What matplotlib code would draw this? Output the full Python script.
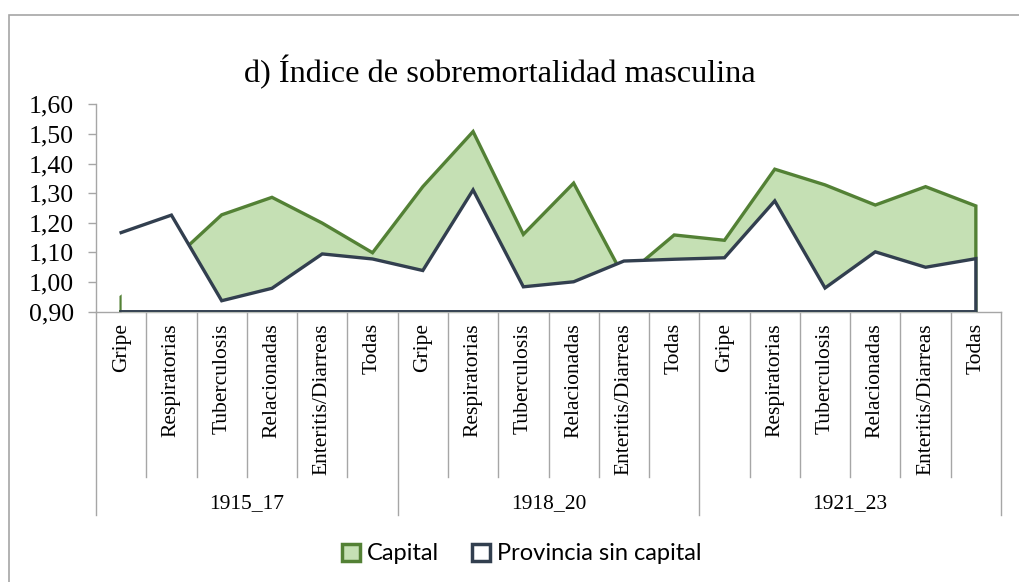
import numpy as np
import matplotlib.pyplot as plt
from matplotlib.patches import Rectangle, Patch
from matplotlib.lines import Line2D
import matplotlib.transforms as mtransforms

# ── DATA ─────────────────────────────────────────────────────
periodos = ['1915_17', '1918_20', '1921_23']
causas = ['Gripe', 'Respiratorias', 'Tuberculosis', 'Relacionadas',
          'Enteritis/Diarreas', 'Todas']
capital = [0.95, 1.07, 1.227, 1.286, 1.199, 1.099,
           1.322, 1.508, 1.161, 1.334, 1.016, 1.159,
           1.141, 1.381, 1.328, 1.260, 1.322, 1.257]
provincia = [1.167, 1.226, 0.937, 0.979, 1.095, 1.078,
             1.039, 1.311, 0.984, 1.001, 1.071, 1.077,
             1.082, 1.274, 0.980, 1.102, 1.050, 1.079]
yticks = [0.90, 1.00, 1.10, 1.20, 1.30, 1.40, 1.50, 1.60]

c_line = '#538135'
c_fill = '#c5e0b4'
p_line = '#323f4f'
grey = '#a6a6a6'
serif = 'Liberation Serif'

W, H = 1019, 582
fig = plt.figure(figsize=(W / 100, H / 100), dpi=100)
ax = fig.add_axes([96 / W, 1 - 311.7 / H, (1001 - 96) / W, (311.7 - 104.3) / H])

n = len(capital)
x = np.arange(n) + 0.5
base = yticks[0]

# capital area (green) then provincia area (white) on top
ax.fill_between(x, base, capital, color=c_fill, lw=0, zorder=1)
cx = np.concatenate([[x[0]], x, [x[-1], x[0]]])
cy = np.concatenate([[base], capital, [base, base]])
ax.plot(cx, cy, color=c_line, lw=2.4, zorder=2, solid_joinstyle='miter')

ax.fill_between(x, base, provincia, color='white', lw=0, zorder=3)
px = np.concatenate([x, [x[-1], x[0]]])
py = np.concatenate([provincia, [base, base]])
ax.plot(px, py, color=p_line, lw=2.4, zorder=4, solid_joinstyle='miter')
ax.plot([x[0], x[-1]], [base, base], color='#5a6470', lw=1, zorder=5)

ax.set_xlim(0, n)
ax.set_ylim(base, 1.60)
ax.set_yticks(yticks)
ax.set_yticklabels([f'{v:.2f}'.replace('.', ',') for v in yticks],
                   fontsize=18.5, family=serif)
ax.tick_params(axis='y', direction='out', length=6, width=1, color=grey, pad=10)
ax.set_xticks([])
for s in ['top', 'right']:
    ax.spines[s].set_visible(False)
for s in ['left', 'bottom']:
    ax.spines[s].set_color(grey)
    ax.spines[s].set_linewidth(1)
ax.spines['bottom'].set_zorder(0)

# category separators and labels below the axis
trans = mtransforms.blended_transform_factory(ax.transData, ax.transAxes)
for i in range(n + 1):
    y_end = -0.98 if i % len(causas) == 0 else -0.796
    ax.add_line(Line2D([i, i], [0, y_end], transform=trans, color=grey,
                       lw=1, clip_on=False))
for i in range(n):
    ax.text(i + 0.5, -0.055, causas[i % len(causas)], transform=trans,
            rotation=90, ha='center', va='top', fontsize=15.5, family=serif)
for g, per in enumerate(periodos):
    ax.text(g * len(causas) + len(causas) / 2, -0.923, per, transform=trans,
            ha='center', va='center', fontsize=15.5, family=serif)

fig.text(244 / W, 1 - 72 / H, 'd) Índice de sobremortalidad masculina',
         ha='left', va='center', fontsize=23.3, family=serif)

handles = [Patch(facecolor=c_fill, edgecolor=c_line, lw=2.5),
           Patch(facecolor='white', edgecolor=p_line, lw=2.5)]
fig.legend(handles, ['Capital', 'Provincia sin capital'], loc='center',
           bbox_to_anchor=(522 / W, 1 - 554 / H), ncol=2, frameon=False,
           prop={'family': 'Lato', 'size': 17}, handlelength=0.75,
           handleheight=0.75, handletextpad=0.3, columnspacing=1.4)

fig.patches.append(Rectangle((9 / W, -0.05), 1.2, 0.05 + 1 - 15 / H,
                             transform=fig.transFigure, fill=False,
                             edgecolor=grey, lw=1.2))

fig.savefig('out.png', dpi=100)
